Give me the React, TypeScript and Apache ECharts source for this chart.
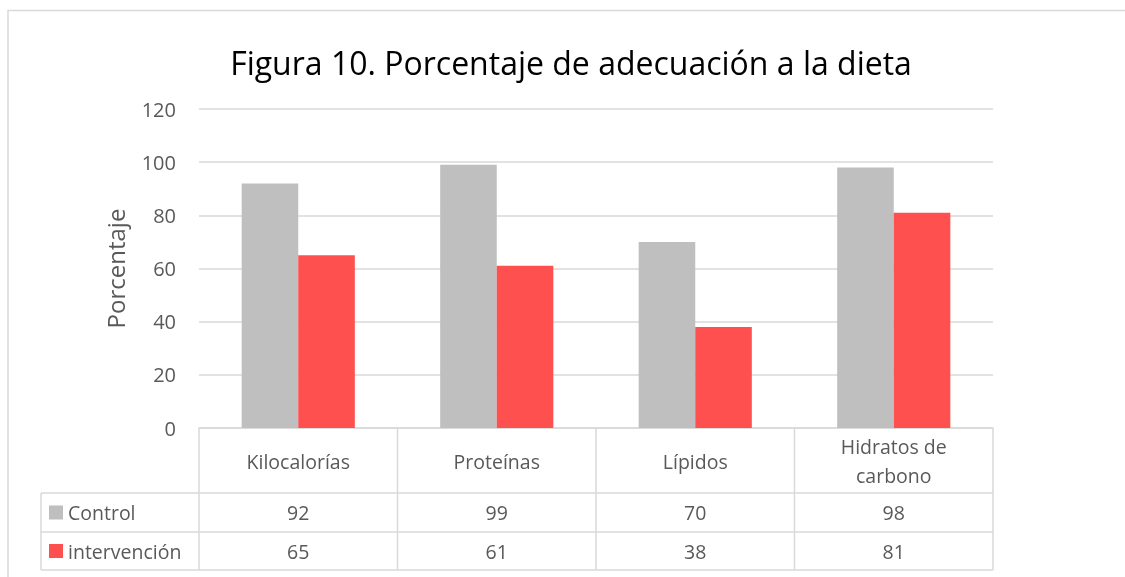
import React, { useEffect, useRef } from "react";
import * as echarts from "echarts";

const categories = ["Kilocalorías", "Proteínas", "Lípidos", "Hidratos de\ncarbono"];
const seriesNames = ["Control", "intervención"];
const controlValues = [92, 99, 70, 98];
const intervencionValues = [65, 61, 38, 81];
const seriesColors = ["#BFBFBF", "#FF5050"];
const yTicks = [0, 20, 40, 60, 80, 100, 120];

const W = 1125;
const H = 577;
const GRID_L = 199;
const GRID_R = 993;
const GRID_T = 109;
const GRID_B = 428;
const ROW_Y = [428, 493, 532, 570];
const TABLE_L = 41;
const FONT = "'Open Sans', sans-serif";
const TXT = "#595959";
const LINE = "#D9D9D9";
const FS = 19.5;

export default function App() {
  const ref = useRef<HTMLDivElement>(null);
  useEffect(() => {
    if (!ref.current) return;
    const chart = echarts.init(ref.current, undefined, { renderer: "svg" });
    const colW = (GRID_R - GRID_L) / categories.length;
    const allValues = [controlValues, intervencionValues];
    const graphic: any[] = [];
    graphic.push({
      type: "rect",
      shape: { x: 8, y: 10.5, width: 1300, height: 700 },
      style: { fill: "none", stroke: LINE, lineWidth: 1.5 },
      silent: true,
    });
    for (let i = 1; i < ROW_Y.length; i++) {
      graphic.push({
        type: "line",
        shape: { x1: TABLE_L, y1: ROW_Y[i], x2: GRID_R, y2: ROW_Y[i] },
        style: { stroke: LINE, lineWidth: 1.5 },
      });
    }
    for (let c = 0; c <= categories.length; c++) {
      const x = GRID_L + c * colW;
      graphic.push({
        type: "line",
        shape: { x1: x, y1: ROW_Y[0], x2: x, y2: ROW_Y[3] },
        style: { stroke: LINE, lineWidth: 1.5 },
      });
    }
    graphic.push({
      type: "line",
      shape: { x1: TABLE_L, y1: ROW_Y[1], x2: TABLE_L, y2: ROW_Y[3] },
      style: { stroke: LINE, lineWidth: 1.5 },
    });
    seriesNames.forEach((name, r) => {
      const cy = (ROW_Y[r + 1] + ROW_Y[r + 2]) / 2;
      graphic.push({
        type: "rect",
        shape: { x: 49, y: cy - 7, width: 14, height: 14 },
        style: { fill: seriesColors[r] },
      });
      graphic.push({
        type: "text",
        x: 68,
        y: cy,
        style: { text: name, fill: TXT, fontSize: FS, fontFamily: FONT, verticalAlign: "middle", align: "left" },
      });
      allValues[r].forEach((v, c) => {
        graphic.push({
          type: "text",
          x: GRID_L + (c + 0.5) * colW,
          y: cy,
          style: { text: String(v), fill: TXT, fontSize: FS, fontFamily: FONT, verticalAlign: "middle", align: "center" },
        });
      });
    });
    graphic.push({
      type: "text",
      x: 571,
      y: 62,
      style: {
        text: "Figura 10. Porcentaje de adecuación a la dieta",
        fill: "#000000",
        fontSize: 32,
        fontFamily: FONT,
        align: "center",
        verticalAlign: "middle",
      },
    });

    chart.setOption({
      animation: false,
      textStyle: { fontFamily: FONT },
      grid: { left: GRID_L, right: W - GRID_R, top: GRID_T, bottom: H - GRID_B, containLabel: false },
      xAxis: {
        type: "category",
        data: categories,
        axisLine: { show: true, lineStyle: { color: LINE, width: 1.5 } },
        axisTick: { show: false },
        axisLabel: {
          color: TXT,
          fontSize: FS,
          fontFamily: FONT,
          margin: 33,
          verticalAlign: "middle",
          lineHeight: 29,
          interval: 0,
        },
      },
      yAxis: {
        type: "value",
        min: yTicks[0],
        max: yTicks[yTicks.length - 1],
        interval: yTicks[1] - yTicks[0],
        name: "Porcentaje",
        nameLocation: "middle",
        nameRotate: 90,
        nameGap: 72,
        nameTextStyle: { color: TXT, fontSize: 24, fontFamily: FONT },
        axisLine: { show: false },
        axisTick: { show: false },
        axisLabel: { color: TXT, fontSize: 20, fontFamily: FONT, margin: 23 },
        splitLine: { lineStyle: { color: LINE, width: 1.5 } },
      },
      series: [
        {
          name: seriesNames[0],
          type: "bar",
          data: controlValues,
          itemStyle: { color: seriesColors[0] },
          barGap: "0%",
          barCategoryGap: "43%",
        },
        {
          name: seriesNames[1],
          type: "bar",
          data: intervencionValues,
          itemStyle: { color: seriesColors[1] },
          barGap: "0%",
          barCategoryGap: "43%",
        },
      ],
      graphic,
    });
    return () => chart.dispose();
  }, []);
  return <div ref={ref} style={{ position: "fixed", left: 0, top: 0, width: W, height: H }} />;
}
